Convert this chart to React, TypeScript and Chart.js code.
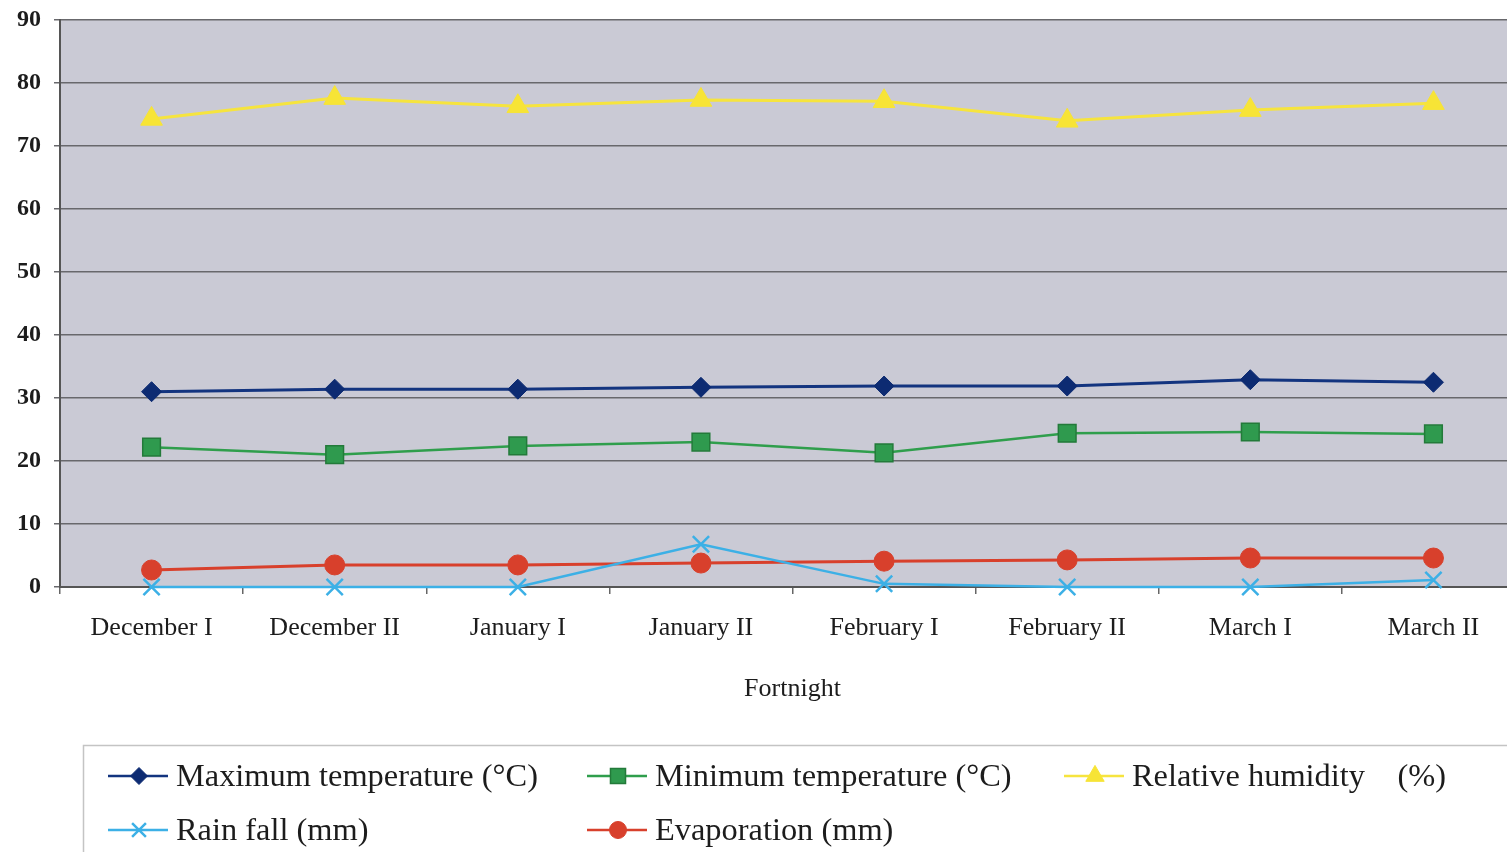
import React, { useEffect, useRef } from 'react';
import { Chart, registerables } from 'chart.js';
import { drawPoint } from 'chart.js/helpers';

Chart.register(...registerables);

const categories = ['December I', 'December II', 'January I', 'January II', 'February I', 'February II', 'March I', 'March II'];
const maxTemp = [31.0, 31.4, 31.4, 31.7, 31.9, 31.9, 32.9, 32.5];
const minTemp = [22.2, 21.0, 22.4, 23.0, 21.3, 24.4, 24.6, 24.3];
const humidity = [74.3, 77.6, 76.3, 77.3, 77.1, 74.0, 75.7, 76.8];
const rainfall = [0, 0, 0, 6.8, 0.5, 0, 0, 1.1];
const evaporation = [2.7, 3.5, 3.5, 3.8, 4.1, 4.3, 4.6, 4.6];
const seriesLabels = ['Maximum temperature (°C)', 'Minimum temperature (°C)', 'Relative humidity    (%)', 'Rain fall (mm)', 'Evaporation (mm)'];
const xTitle = 'Fortnight';
const yMin = 0;
const yMax = 90;
const yStep = 10;

const FONT = '"Liberation Serif", "Times New Roman", serif';
const TEXT = '#1c1c1c';

const plotBg = {
  id: 'plotBg',
  beforeDraw(chart: any) {
    const { ctx, chartArea } = chart;
    ctx.save();
    ctx.fillStyle = '#cacad5';
    ctx.fillRect(chartArea.left, chartArea.top, chartArea.right - chartArea.left, chartArea.bottom - chartArea.top);
    ctx.restore();
  },
};

const boxLegend = {
  id: 'boxLegend',
  afterDraw(chart: any) {
    const { ctx } = chart;
    ctx.save();
    ctx.strokeStyle = '#c4c4c4';
    ctx.lineWidth = 1.5;
    ctx.strokeRect(83.5, 745.5, 3000, 500);
    const slots = [
      [108, 776],
      [587, 776],
      [1064, 776],
      [108, 830],
      [587, 830],
    ];
    chart.data.datasets.forEach((ds: any, i: number) => {
      const [x, y] = slots[i];
      ctx.strokeStyle = ds.borderColor;
      ctx.lineWidth = 2.5;
      ctx.beginPath();
      ctx.moveTo(x, y);
      ctx.lineTo(x + 60, y);
      ctx.stroke();
      ctx.fillStyle = ds.pointBackgroundColor;
      ctx.strokeStyle = ds.pointBorderColor;
      ctx.lineWidth = ds.pointBorderWidth;
      drawPoint(ctx, { pointStyle: ds.pointStyle, rotation: 0, radius: ds.pointRadius * 0.85, borderWidth: ds.pointBorderWidth }, x + 31, y);
      ctx.fillStyle = TEXT;
      ctx.font = `32.4px ${FONT}`;
      ctx.textBaseline = 'middle';
      ctx.textAlign = 'left';
      ctx.fillText(ds.label, x + 68, y + 1);
    });
    ctx.restore();
  },
};

export default function App() {
  const ref = useRef<HTMLCanvasElement>(null);
  useEffect(() => {
    if (!ref.current) return;
    const mk = (label: string, data: number[], color: string, style: string, radius: number, fill: string, border: string, bw: number, lw: number) => ({
      label,
      data,
      borderColor: color,
      backgroundColor: color,
      borderWidth: lw,
      pointStyle: style,
      pointRadius: radius,
      pointBackgroundColor: fill,
      pointBorderColor: border,
      pointBorderWidth: bw,
      tension: 0,
      fill: false,
      clip: false,
    });
    const chart = new Chart(ref.current, {
      type: 'line',
      data: {
        labels: categories,
        datasets: [
          mk(seriesLabels[0], maxTemp, '#13347f', 'rectRot', 10, '#0d2b72', '#0d2b72', 1, 3),
          mk(seriesLabels[1], minTemp, '#2f9e4c', 'rect', 12.5, '#2f9a4e', '#237a3a', 1.5, 2.5),
          mk(seriesLabels[2], humidity, '#f6e43e', 'triangle', 12.5, '#f7e436', '#f7e436', 1, 3),
          mk(seriesLabels[3], rainfall, '#3cb0e6', 'crossRot', 11.5, '#3cb0e6', '#3cb0e6', 2.5, 2.5),
          mk(seriesLabels[4], evaporation, '#d8402c', 'circle', 10, '#d8402c', '#d8402c', 1, 3),
        ],
      },
      options: {
        responsive: false,
        animation: false,
        devicePixelRatio: 1,
        layout: { padding: { top: 20, right: 0, bottom: 145, left: 0 } },
        plugins: {
          legend: { display: false },
          tooltip: { enabled: false },
        },
        scales: {
          x: {
            type: 'category',
            offset: true,
            grid: { display: true, offset: true, drawOnChartArea: false, drawTicks: true, tickLength: 7, color: '#666', lineWidth: 1.5 },
            border: { display: true, color: '#555', width: 2 },
            ticks: { color: TEXT, font: { family: FONT, size: 26 }, padding: 19, maxRotation: 0, autoSkip: false },
            title: { display: true, text: xTitle, color: TEXT, font: { family: FONT, size: 26 }, padding: { top: 0, bottom: 2 } },
            afterFit(scale: any) { scale.height = 120; scale.paddingLeft = 0; scale.paddingRight = 0; },
          },
          y: {
            min: yMin,
            max: yMax,
            ticks: { stepSize: yStep, color: TEXT, font: { family: FONT, size: 24, weight: 'bold' }, padding: 13 },
            grid: { color: '#68686c', lineWidth: 1.5, tickLength: 6, drawTicks: true },
            border: { display: true, color: '#555', width: 2 },
            afterFit(scale: any) { scale.width = 60; scale.paddingTop = 0; scale.paddingBottom = 0; },
          },
        },
      },
      plugins: [plotBg, boxLegend],
    });
    return () => chart.destroy();
  }, []);
  return (
    <div style={{ position: 'fixed', left: 0, top: 0, width: 1507, height: 852, overflow: 'hidden', background: '#fff' }}>
      <canvas ref={ref} width={1539} height={852} style={{ width: 1539, height: 852, display: 'block' }} />
    </div>
  );
}
